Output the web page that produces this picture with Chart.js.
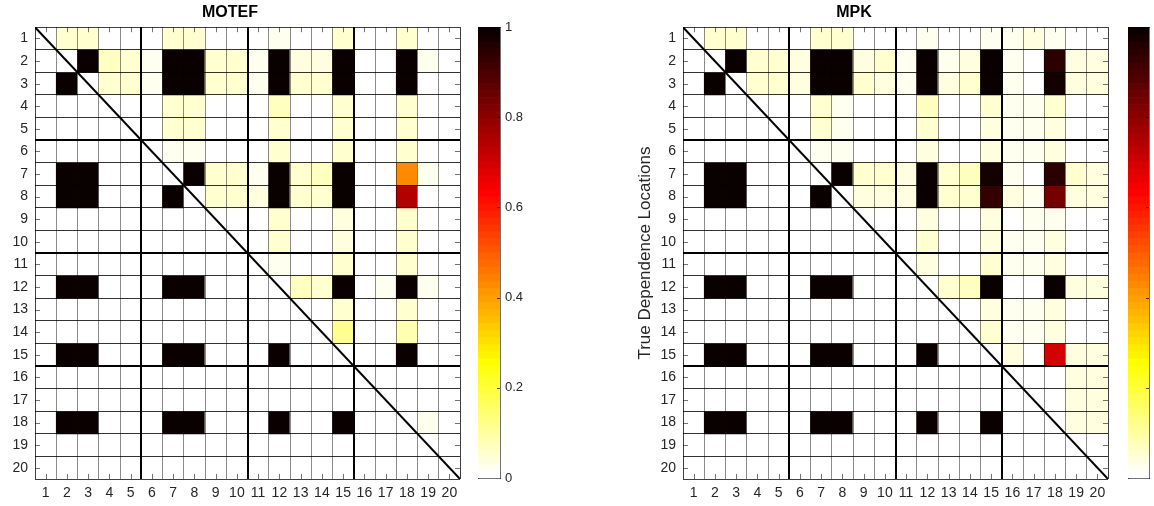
<!DOCTYPE html>
<html>
<head>
<meta charset="utf-8">
<script src="https://cdn.jsdelivr.net/npm/chart.js@4.4.1/dist/chart.umd.min.js"></script>
<style>
  html, body { margin: 0; padding: 0; background: #fff; }
  #wrap { position: relative; width: 1154px; height: 506px; overflow: hidden; }
  .box { position: absolute; top: 0; height: 506px; }
</style>
</head>
<body>
<div id="wrap">
  <div class="box" style="left:0;width:470px"><canvas id="heatA"></canvas></div>
  <div class="box" style="left:470px;width:70px"><canvas id="barA"></canvas></div>
  <div class="box" style="left:600px;width:520px"><canvas id="heatB"></canvas></div>
  <div class="box" style="left:1120px;width:34px"><canvas id="barB"></canvas></div>
</div>
<script>
/* ================= DATA ================= */

const locations = [1, 2, 3, 4, 5, 6, 7, 8, 9, 10, 11, 12, 13, 14, 15, 16, 17, 18, 19, 20];
const axisEdges = [0.5, 20.5];
const blockEdges = [5.5, 10.5, 15.5];
const colorbarTicks = [0, 0.2, 0.4, 0.6, 0.8, 1];

// rows = locations 1..20 (top to bottom), columns = locations 1..20
const motefValues = [
  [0, .05, .05, 0, 0, 0, .05, .05, 0, 0, 0, .03, 0, 0, .05, 0, 0, .05, 0, 0],
  [0, 0, 1, .07, .06, .03, 1, 1, .05, .05, .03, 1, .04, .04, 1, 0, 0, 1, .03, 0],
  [0, 1, 0, .05, .05, .03, 1, 1, .05, .05, .03, 1, .05, .06, 1, 0, 0, 1, 0, 0],
  [0, 0, 0, 0, 0, 0, .05, .05, 0, 0, 0, .07, 0, 0, .05, 0, 0, .05, 0, 0],
  [0, 0, 0, 0, 0, 0, .05, .05, 0, 0, 0, .06, 0, 0, .05, 0, 0, .05, 0, 0],
  [0, 0, 0, 0, 0, 0, .03, .03, 0, 0, 0, .05, 0, 0, .05, 0, 0, .05, 0, 0],
  [0, 1, 1, 0, 0, 0, 0, 1, .05, .05, .03, 1, .05, .07, 1, 0, 0, .43, .03, 0],
  [0, 1, 1, 0, 0, 0, 1, 0, .05, .05, .04, 1, .05, .05, 1, 0, 0, .74, 0, 0],
  [0, 0, 0, 0, 0, 0, 0, 0, 0, 0, 0, .05, 0, 0, .04, 0, 0, .05, 0, 0],
  [0, 0, 0, 0, 0, 0, 0, 0, 0, 0, 0, .06, 0, 0, .04, 0, 0, .05, 0, 0],
  [0, 0, 0, 0, 0, 0, 0, 0, 0, 0, 0, .03, 0, 0, .05, 0, 0, .05, 0, 0],
  [0, 1, 1, 0, 0, 0, 1, 1, 0, 0, 0, 0, .07, .06, 1, 0, .02, 1, .03, 0],
  [0, 0, 0, 0, 0, 0, 0, 0, 0, 0, 0, 0, 0, 0, .05, 0, 0, .05, 0, 0],
  [0, 0, 0, 0, 0, 0, 0, 0, 0, 0, 0, 0, 0, 0, .11, 0, 0, .08, 0, 0],
  [0, 1, 1, 0, 0, 0, 1, 1, 0, 0, 0, 1, 0, 0, 0, 0, 0, 1, 0, 0],
  [0, 0, 0, 0, 0, 0, 0, 0, 0, 0, 0, 0, 0, 0, 0, 0, 0, 0, 0, 0],
  [0, 0, 0, 0, 0, 0, 0, 0, 0, 0, 0, 0, 0, 0, 0, 0, 0, 0, 0, 0],
  [0, 1, 1, 0, 0, 0, 1, 1, 0, 0, 0, 1, 0, 0, 1, 0, 0, 0, .03, 0],
  [0, 0, 0, 0, 0, 0, 0, 0, 0, 0, 0, 0, 0, 0, 0, 0, 0, 0, 0, 0],
  [0, 0, 0, 0, 0, 0, 0, 0, 0, 0, 0, 0, 0, 0, 0, 0, 0, 0, 0, 0]
];

const mpkValues = [
  [0, .05, .06, 0, 0, 0, .05, .05, 0, 0, 0, .03, 0, 0, .03, .02, .04, .03, 0, 0],
  [0, 0, 1, .06, .05, .04, 1, 1, .04, .05, .03, 1, .02, .04, 1, .02, 0, .94, .04, .04],
  [0, 1, 0, .05, .05, .04, 1, 1, .05, .04, .03, 1, .04, .05, 1, .02, 0, .98, .04, .04],
  [0, 0, 0, 0, 0, 0, .05, .03, 0, 0, 0, .07, 0, 0, .05, .02, .03, .05, 0, 0],
  [0, 0, 0, 0, 0, 0, .05, .03, 0, 0, 0, .05, 0, 0, .04, .02, .03, .04, 0, 0],
  [0, 0, 0, 0, 0, 0, .03, .03, 0, 0, 0, .04, 0, 0, .04, .02, .02, .04, 0, 0],
  [0, 1, 1, 0, 0, 0, 0, 1, .05, .05, .04, 1, .05, .07, .98, .03, 0, .95, .05, .04],
  [0, 1, 1, 0, 0, 0, 1, 0, .04, .04, .04, 1, .05, .05, .93, .04, .03, .84, .04, .04],
  [0, 0, 0, 0, 0, 0, 0, 0, 0, 0, 0, .04, 0, 0, .04, 0, .03, .03, 0, 0],
  [0, 0, 0, 0, 0, 0, 0, 0, 0, 0, 0, .05, 0, 0, .04, .02, .03, .04, 0, 0],
  [0, 0, 0, 0, 0, 0, 0, 0, 0, 0, 0, .04, 0, 0, .05, .02, .03, .04, 0, 0],
  [0, 1, 1, 0, 0, 0, 1, 1, 0, 0, 0, 0, .05, .07, 1, 0, 0, 1, .04, .04],
  [0, 0, 0, 0, 0, 0, 0, 0, 0, 0, 0, 0, 0, 0, .04, .02, .03, .04, 0, 0],
  [0, 0, 0, 0, 0, 0, 0, 0, 0, 0, 0, 0, 0, 0, .05, .02, .03, .04, 0, 0],
  [0, 1, 1, 0, 0, 0, 1, 1, 0, 0, 0, 1, 0, 0, 0, .04, 0, .70, .04, .04],
  [0, 0, 0, 0, 0, 0, 0, 0, 0, 0, 0, 0, 0, 0, 0, 0, 0, 0, .04, .04],
  [0, 0, 0, 0, 0, 0, 0, 0, 0, 0, 0, 0, 0, 0, 0, 0, 0, 0, .04, .04],
  [0, 1, 1, 0, 0, 0, 1, 1, 0, 0, 0, 1, 0, 0, 1, 0, 0, 0, .04, .04],
  [0, 0, 0, 0, 0, 0, 0, 0, 0, 0, 0, 0, 0, 0, 0, 0, 0, 0, 0, 0],
  [0, 0, 0, 0, 0, 0, 0, 0, 0, 0, 0, 0, 0, 0, 0, 0, 0, 0, 0, 0]
];

/* ================= COLORMAP (flipped "hot", 64 levels) ================= */

const CMAP_LEVELS = 64;

function hotColor(v) {
  const j = Math.max(0, Math.min(CMAP_LEVELS - 1, Math.floor(v * CMAP_LEVELS)));
  const k = CMAP_LEVELS - j;
  const r = Math.min(1, k / 24);
  const g = Math.min(1, Math.max(0, (k - 24) / 24));
  const b = Math.min(1, Math.max(0, (k - 48) / 16));
  return `rgb(${Math.round(r * 255)},${Math.round(g * 255)},${Math.round(b * 255)})`;
}

/* ================= DEFAULTS ================= */

Chart.defaults.font.family = '"Liberation Sans", Arial, Helvetica, sans-serif';
Chart.defaults.color = '#262626';
Chart.defaults.animation = false;
Chart.defaults.events = [];

// small MATLAB-style tick marks pointing into the axes box
const innerTicks = {
  id: 'innerTicks',
  afterDraw(chart, args, opts) {
    if (!opts.sides) return;
    const { ctx, chartArea: a } = chart;
    ctx.save();
    ctx.strokeStyle = opts.color || 'rgba(0,0,0,0.6)';
    ctx.lineWidth = 1;
    ctx.beginPath();
    opts.sides.forEach(([id, side]) => {
      const s = chart.scales[id];
      s.ticks.forEach((t, i) => {
        if (opts.skipEnds && (t.value === s.min || t.value === s.max)) return;
        const p = Math.round(s.getPixelForTick(i)) + 0.5;
        const len = opts.len || 4;
        if (side === 'top') { ctx.moveTo(p, a.top); ctx.lineTo(p, a.top + len); }
        if (side === 'bottom') { ctx.moveTo(p, a.bottom); ctx.lineTo(p, a.bottom - len); }
        if (side === 'left') { ctx.moveTo(a.left, p); ctx.lineTo(a.left + len, p); }
        if (side === 'right') { ctx.moveTo(a.right, p); ctx.lineTo(a.right - len, p); }
      });
    });
    ctx.stroke();
    ctx.restore();
  }
};

/* ================= HEATMAPS ================= */

function gridColor(faint) {
  return c => {
    const v = c.tick ? c.tick.value : null;
    if (blockEdges.includes(v)) return '#000';
    if (axisEdges.includes(v)) return 'rgba(0,0,0,0.75)';
    return faint;
  };
}
function gridWidth(c) {
  const v = c.tick ? c.tick.value : null;
  return blockEdges.includes(v) ? 2 : 1;
}

function heatmap(canvasId, title, values, opts) {
  const datasets = values.map((row, r) => ({
    type: 'bar',
    xAxisID: 'x',
    yAxisID: 'y',
    data: row.map((v, c) => ({ x: locations[c], y: [locations[r] - 0.5, locations[r] + 0.5] })),
    backgroundColor: row.map(hotColor),
    borderWidth: 0,
    grouped: false,
    categoryPercentage: 1,
    barPercentage: 1,
    order: 1
  }));

  datasets.unshift({
    type: 'line',
    xAxisID: 'x',
    yAxisID: 'y',
    data: axisEdges.map(v => ({ x: v, y: v })),
    borderColor: '#000',
    borderWidth: 2,
    pointRadius: 0,
    fill: false,
    order: 0
  });

  return new Chart(document.getElementById(canvasId), {
    type: 'bar',
    data: { datasets },
    options: {
      responsive: true,
      maintainAspectRatio: false,
      layout: { padding: { left: 0, right: opts.padRight, top: 0, bottom: 0 } },
      plugins: {
        legend: { display: false },
        tooltip: { enabled: false },
        title: {
          display: true,
          text: title,
          color: '#000',
          font: { size: 16, weight: 'bold' },
          padding: { top: 3, bottom: 5 }
        },
        innerTicks: {
          sides: [['x', 'top'], ['x', 'bottom'], ['y', 'left'], ['y', 'right']],
          len: 5,
          color: 'rgba(0,0,0,0.55)'
        }
      },
      scales: {
        x: {
          type: 'linear', axis: 'x', position: 'bottom',
          min: axisEdges[0], max: axisEdges[1], offset: false,
          afterBuildTicks: s => { s.ticks = locations.map(v => ({ value: v })); },
          afterFit: s => { s.height = 27; },
          grid: { display: false, drawTicks: false },
          border: { display: false },
          ticks: { autoSkip: false, maxRotation: 0, padding: 6, font: { size: 14 } }
        },
        xg: {
          type: 'linear', axis: 'x', position: 'top',
          min: axisEdges[0], max: axisEdges[1], offset: false,
          afterFit: s => { s.height = 0; },
          grid: { z: 1, drawTicks: false, offset: false, color: gridColor('rgba(0,0,0,0.45)'), lineWidth: gridWidth },
          border: { display: false },
          ticks: { display: false, stepSize: 1 }
        },
        y: {
          type: 'linear', axis: 'y', position: 'left', reverse: true,
          min: axisEdges[0], max: axisEdges[1], offset: false,
          afterBuildTicks: s => { s.ticks = locations.map(v => ({ value: v })); },
          afterFit: s => { s.width = opts.yWidth; },
          grid: { display: false, drawTicks: false },
          border: { display: false },
          ticks: { autoSkip: false, padding: 7, font: { size: 14 } },
          title: opts.yTitle ? {
            display: true,
            text: opts.yTitle,
            color: '#262626',
            font: { size: 17 },
            padding: { top: opts.yTitlePad, bottom: 0 }
          } : { display: false }
        },
        yg: {
          type: 'linear', axis: 'y', position: 'right', reverse: true,
          min: axisEdges[0], max: axisEdges[1], offset: false,
          afterFit: s => { s.width = 0; },
          grid: { z: 1, drawTicks: false, color: gridColor('rgba(0,0,0,0.8)'), lineWidth: gridWidth },
          border: { display: false },
          ticks: { display: false, stepSize: 1 }
        }
      }
    },
    plugins: [innerTicks]
  });
}

/* ================= COLORBARS ================= */

function colorbar(canvasId, showLabels, padRight) {
  const levels = Array.from({ length: CMAP_LEVELS }, (_, i) => i);
  const edge = { display: true, color: 'rgba(0,0,0,0.55)', width: 1 };

  return new Chart(document.getElementById(canvasId), {
    type: 'bar',
    data: {
      labels: ['cb'],
      datasets: [{
        data: levels.map(i => ({ x: 'cb', y: [i / CMAP_LEVELS, (i + 1) / CMAP_LEVELS] })),
        backgroundColor: levels.map(i => hotColor((i + 0.5) / CMAP_LEVELS)),
        borderWidth: 0,
        categoryPercentage: 1,
        barPercentage: 1
      }]
    },
    options: {
      responsive: true,
      maintainAspectRatio: false,
      layout: { padding: { left: 8, right: padRight, top: 27, bottom: 28 } },
      plugins: {
        legend: { display: false },
        tooltip: { enabled: false },
        innerTicks: { sides: [['y', 'right']], len: 3, skipEnds: true, color: 'rgba(0,0,0,0.7)' }
      },
      scales: {
        x: {
          type: 'category', position: 'bottom',
          afterFit: s => { s.height = 0; },
          grid: { display: false, drawTicks: false }, border: edge,
          ticks: { display: false }
        },
        x2: {
          type: 'category', axis: 'x', position: 'top',
          afterFit: s => { s.height = 0; },
          grid: { display: false, drawTicks: false }, border: edge,
          ticks: { display: false }
        },
        y: {
          type: 'linear', position: 'right', min: 0, max: 1,
          afterBuildTicks: s => { s.ticks = colorbarTicks.map(v => ({ value: v })); },
          afterFit: s => { s.width = showLabels ? 40 : 0; },
          grid: { display: false, drawTicks: false }, border: edge,
          ticks: {
            display: showLabels, padding: 5, font: { size: 13 },
            callback: v => String(Math.round(v * 10) / 10)
          }
        },
        y2: {
          type: 'linear', axis: 'y', position: 'left', min: 0, max: 1,
          afterFit: s => { s.width = 0; },
          grid: { display: false, drawTicks: false }, border: edge,
          ticks: { display: false }
        }
      }
    },
    plugins: [innerTicks]
  });
}

/* ================= INIT ================= */

heatmap('heatA', 'MOTEF', motefValues, { padRight: 10, yWidth: 35 });
colorbar('barA', true, 0);
heatmap('heatB', 'MPK', mpkValues, {
  padRight: 12, yWidth: 83,
  yTitle: 'True Dependence Locations', yTitlePad: 35
});
colorbar('barB', false, 5);
</script>
</body>
</html>
